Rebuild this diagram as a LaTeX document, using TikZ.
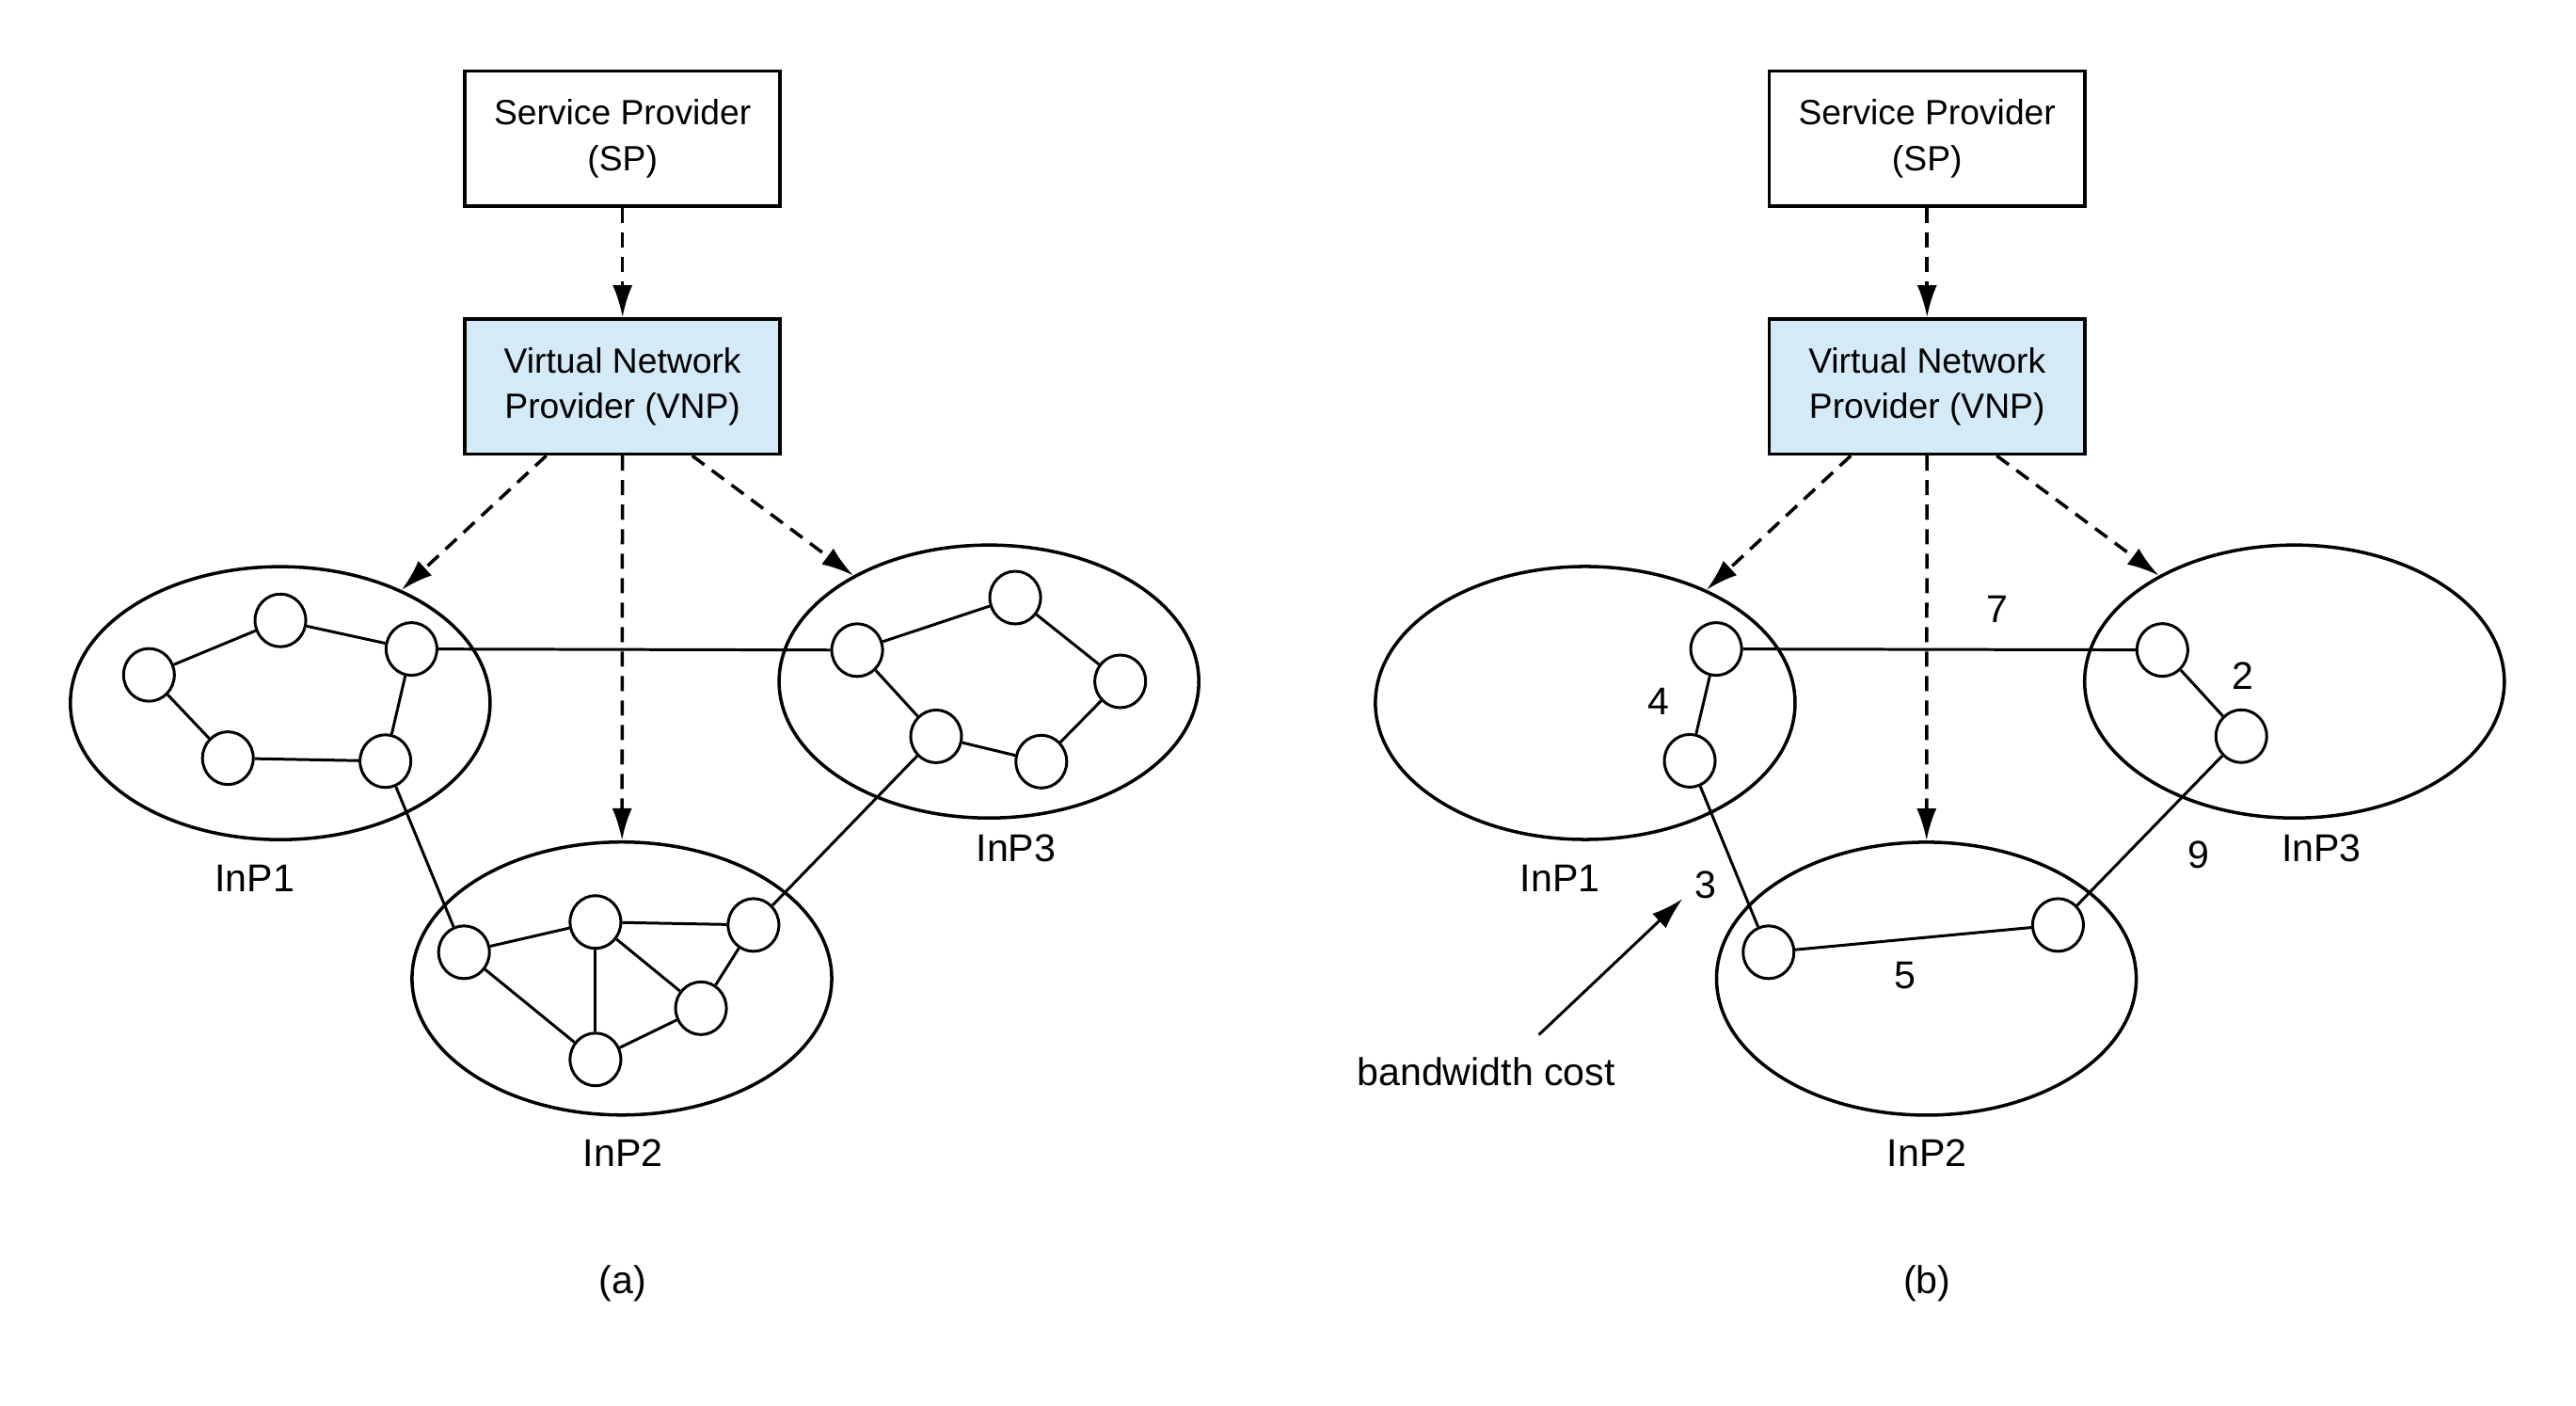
\documentclass[tikz,border=0pt]{standalone}
\usepackage{fontspec}
\setmainfont{Liberation Sans}
\usetikzlibrary{arrows.meta,shapes.geometric}
\definecolor{vnpblue}{HTML}{D4EAF7}
\tikzset{
    provider/.style={draw,line width=1pt,minimum width=3.35cm,minimum height=1.435cm,align=center,font=\fontsize{10.6}{13.7}\selectfont},
    inp/.style={draw,ellipse,line width=1pt,minimum width=4.46cm,minimum height=2.9cm,inner sep=0pt},
    vnode/.style={draw,ellipse,fill=white,line width=0.85pt,minimum width=0.54cm,minimum height=0.56cm,inner sep=0pt},
    link/.style={line width=0.85pt},
    delegate/.style={line width=1pt,dash pattern=on 0.16cm off 0.1cm,-{Latex[length=0.34cm,width=0.21cm]}}
}
\begin{document}
\begin{tikzpicture}[x=0.01755cm,y=-0.01755cm,font=\fontsize{11.7}{14}\selectfont]
    \useasboundingbox (0,0) rectangle (1560,851);
    % (a)
    \node[provider] (spA) at (377,84) {Service Provider\\(SP)};
    \node[provider,fill=vnpblue] (vnpA) at (377,234) {Virtual Network\\Provider (VNP)};
    \node[inp] (inpA1) at (169.7,425.7) {};
    \node[inp] (inpA3) at (598.9,412.6) {};
    \node[inp] (inpA2) at (376.6,592.4) {};
    \node (labA1) at (154.3,531.5) {InP1};
    \node (labA3) at (615.3,513.7) {InP3};
    \node (labA2) at (377.2,698.2) {InP2};
    \node (capA) at (377,777) {(a)};
    \draw[delegate] (spA) -- (vnpA);
    \draw[delegate] ([xshift=-0.81cm]vnpA.south) -- (inpA1.43);
    \draw[delegate] (vnpA) -- (inpA2);
    \draw[delegate] ([xshift=0.74cm]vnpA.south) -- (inpA3.142);
    \node[vnode] (p1a) at (90.2,408.6) {};
    \node[vnode] (p1b) at (169.8,375.6) {};
    \node[vnode] (p1c) at (249.2,392.9) {};
    \node[vnode] (p1d) at (138.0,459.0) {};
    \node[vnode] (p1e) at (233.4,460.8) {};
    \node[vnode] (p3a) at (519.1,393.6) {};
    \node[vnode] (p3b) at (614.8,361.8) {};
    \node[vnode] (p3c) at (678.4,412.5) {};
    \node[vnode] (p3d) at (566.9,445.8) {};
    \node[vnode] (p3e) at (630.6,461.1) {};
    \node[vnode] (p2a) at (281.0,576.5) {};
    \node[vnode] (p2b) at (360.6,558.2) {};
    \node[vnode] (p2c) at (456.3,560.0) {};
    \node[vnode] (p2d) at (424.5,610.4) {};
    \node[vnode] (p2e) at (360.6,641.4) {};
    \draw[link] (p1a) -- (p1b) -- (p1c) -- (p1e) -- (p1d) -- (p1a);
    \draw[link] (p3a) -- (p3b) -- (p3c) -- (p3e) -- (p3d) -- (p3a);
    \draw[link] (p2a) -- (p2b) -- (p2c) -- (p2d) -- (p2e) -- (p2a);
    \draw[link] (p2b) -- (p2e);
    \draw[link] (p2b) -- (p2d);
    \draw[link] (p1c) -- (p3a);
    \draw[link] (p1e) -- (p2a);
    \draw[link] (p3d) -- (p2c);
    % (b)
    \node[provider] (spB) at (1167,84) {Service Provider\\(SP)};
    \node[provider,fill=vnpblue] (vnpB) at (1167,234) {Virtual Network\\Provider (VNP)};
    \node[inp] (inpB1) at (960,425.6) {};
    \node[inp] (inpB3) at (1389.5,412.6) {};
    \node[inp] (inpB2) at (1166.6,592.5) {};
    \node (labB1) at (944.7,531.5) {InP1};
    \node (labB3) at (1405.8,513.7) {InP3};
    \node (labB2) at (1167,698.2) {InP2};
    \node (capB) at (1167,777) {(b)};
    \draw[delegate] (spB) -- (vnpB);
    \draw[delegate] ([xshift=-0.81cm]vnpB.south) -- (inpB1.43);
    \draw[delegate] (vnpB) -- (inpB2);
    \draw[delegate] ([xshift=0.74cm]vnpB.south) -- (inpB3.142);
    \node[vnode] (q1a) at (1039.3,392.9) {};
    \node[vnode] (q1b) at (1023.3,460.6) {};
    \node[vnode] (q3a) at (1309.5,393.5) {};
    \node[vnode] (q3b) at (1357.3,445.7) {};
    \node[vnode] (q2a) at (1071,576.5) {};
    \node[vnode] (q2b) at (1246.3,560) {};
    \draw[link] (q1a) -- (q3a);
    \draw[link] (q1a) -- (q1b);
    \draw[link] (q1b) -- (q2a);
    \draw[link] (q2a) -- (q2b);
    \draw[link] (q3a) -- (q3b);
    \draw[link] (q3b) -- (q2b);
    \node (w7) at (1209.7,368.7) {7};
    \node (w4) at (1004.2,424.7) {4};
    \node (w3) at (1032.9,535.8) {3};
    \node (w5) at (1153.7,590.8) {5};
    \node (w2) at (1358.3,409.4) {2};
    \node (w9) at (1331.6,517.5) {9};
    \node (bw) at (900,649) {bandwidth cost};
    \coordinate (bwtip) at (1018.9,544.2);
    \draw[link,-{Latex[length=0.34cm,width=0.21cm]}] ([xshift=0.56cm,yshift=0.12cm]bw.north) -- (bwtip);
\end{tikzpicture}
\end{document}
